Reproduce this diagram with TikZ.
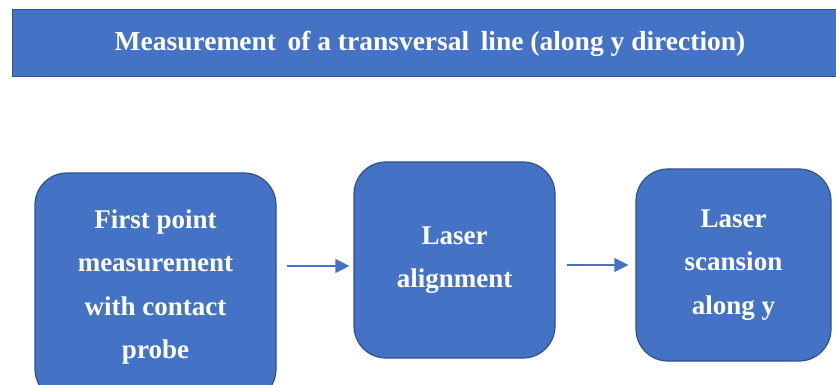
\documentclass[tikz,border=0pt]{standalone}
\usepackage{fontspec}
\setmainfont{Liberation Serif}
\usetikzlibrary{arrows.meta}
\definecolor{boxblue}{HTML}{4472C4}
\definecolor{edgeblue}{HTML}{2F528F}

\begin{document}
\begin{tikzpicture}[x=1pt, y=-1pt,
  stepbox/.style={draw=edgeblue, line width=1.2pt, fill=boxblue, rounded corners=32pt,
    text=white, align=center, inner sep=0pt, font=\fontsize{27}{43.5}\selectfont\bfseries},
  flow/.style={boxblue, line width=1.3pt, -{Triangle[length=14pt,width=14pt]}}]
\useasboundingbox (0,0) rectangle (836,385);
\clip (0,0) rectangle (836,385);
\node[draw=edgeblue, line width=1pt, fill=boxblue, minimum width=836pt, minimum height=67pt,
  text=white, font=\fontsize{27.5}{30}\selectfont\bfseries] (title) at (430,43.5)
  {Measurement\, of a transversal\, line (along y direction)};
\node[stepbox, minimum width=241pt, minimum height=228pt] (first) at (155.5,287)
  {First point\\measurement\\with contact\\probe};
\node[stepbox, minimum width=201pt, minimum height=196pt] (align) at (454.5,260)
  {Laser\\alignment};
\node[stepbox, minimum width=195pt, minimum height=192pt] (scan) at (733.5,265)
  {Laser\\scansion\\along y};
\draw[flow] ([xshift=10pt,yshift=21pt]first.east) -- ([xshift=-4pt,yshift=-6pt]align.west);
\draw[flow] ([xshift=11pt,yshift=-5pt]align.east) -- ([xshift=-7pt]scan.west);
\end{tikzpicture}
\end{document}
